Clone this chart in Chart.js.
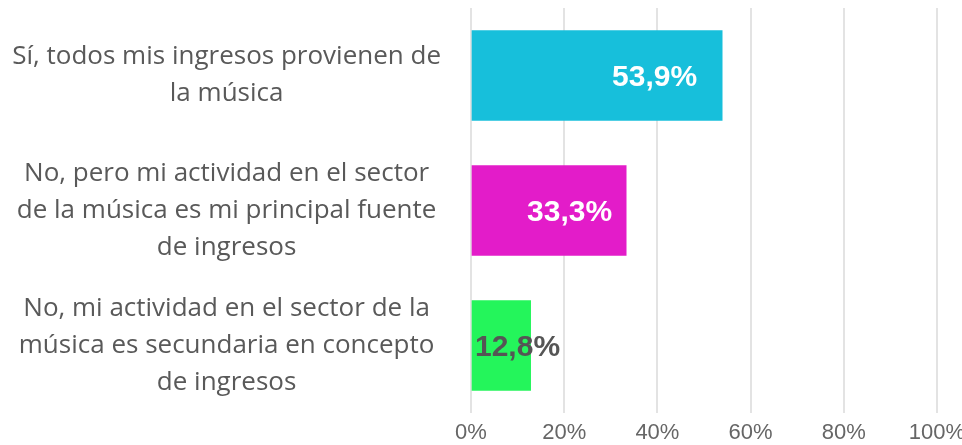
<!DOCTYPE html>
<html lang="es">
<head>
  <meta charset="UTF-8">
  <script src="https://cdn.jsdelivr.net/npm/chart.js"></script>
  <style>
    html, body { margin: 0; padding: 0; background: #fff; }
    .box { width: 962px; height: 445px; }
  </style>
</head>
<body>
  <div class="box">
    <canvas id="grafico"></canvas>
  </div>

<script>
  // datos
  const categorias = [
    ['Sí, todos mis ingresos provienen de', 'la música'],
    ['No, pero mi actividad en el sector', 'de la música es mi principal fuente', 'de ingresos'],
    ['No, mi actividad en el sector de la', 'música es secundaria en concepto', 'de ingresos']
  ];
  const valores = [53.9, 33.3, 12.8];
  const etiquetas = ['53,9%', '33,3%', '12,8%'];
  const ticksX = ['0%', '20%', '40%', '60%', '80%', '100%'];

  const colores = ['#17BFDB', '#E31CC9', '#24F55B'];
  const coloresTexto = ['#ffffff', '#ffffff', '#555555'];

  // etiqueta de valor dentro de cada barra
  const pluginEtiquetas = {
    id: 'etiquetas',
    afterDatasetsDraw(chart) {
      const ctx = chart.ctx;
      const meta = chart.getDatasetMeta(0);
      ctx.save();
      ctx.font = 'bold 30px "Liberation Sans", Arial, sans-serif';
      ctx.textBaseline = 'middle';
      meta.data.forEach((barra, i) => {
        ctx.fillStyle = coloresTexto[i];
        if (i < 2) {
          ctx.textAlign = 'right';
          ctx.fillText(etiquetas[i], barra.x - (i === 0 ? 25 : 14), barra.y + 2);
        } else {
          ctx.textAlign = 'left';
          ctx.fillText(etiquetas[i], barra.base + 3, barra.y + 2);
        }
      });
      ctx.restore();
    }
  };

  const grafico = new Chart(document.getElementById('grafico'), {
    type: 'bar',
    data: {
      labels: categorias,
      datasets: [{
        data: valores,
        backgroundColor: colores,
        barThickness: 90,
        borderSkipped: false
      }]
    },
    options: {
      indexAxis: 'y',
      responsive: true,
      maintainAspectRatio: false,
      animation: false,
      layout: { padding: { top: 8, right: 0, left: 0, bottom: 0 } },
      plugins: {
        legend: { display: false },
        tooltip: { enabled: false }
      },
      scales: {
        x: {
          min: 0,
          max: 100,
          grid: { color: '#e3e3e3', lineWidth: 2, drawTicks: false },
          border: { display: false },
          afterFit(scale) {
            scale.height = 32;
            scale.paddingLeft = 0;
            scale.paddingRight = 25;
          },
          ticks: {
            stepSize: 20,
            padding: 7,
            color: '#666',
            font: { size: 22, family: '"Liberation Sans", Arial, sans-serif' },
            callback: (v, i) => ticksX[i]
          }
        },
        y: {
          grid: { display: false, drawTicks: false },
          border: { display: false },
          afterFit(scale) {
            scale.width = 471;
            scale.paddingTop = 0;
            scale.paddingBottom = 0;
          },
          ticks: {
            crossAlign: 'center',
            padding: 30,
            color: '#595959',
            font: { size: 26, family: '"Open Sans", Lato, sans-serif', lineHeight: 1.42 }
          }
        }
      }
    },
    plugins: [pluginEtiquetas]
  });
</script>
</body>
</html>
